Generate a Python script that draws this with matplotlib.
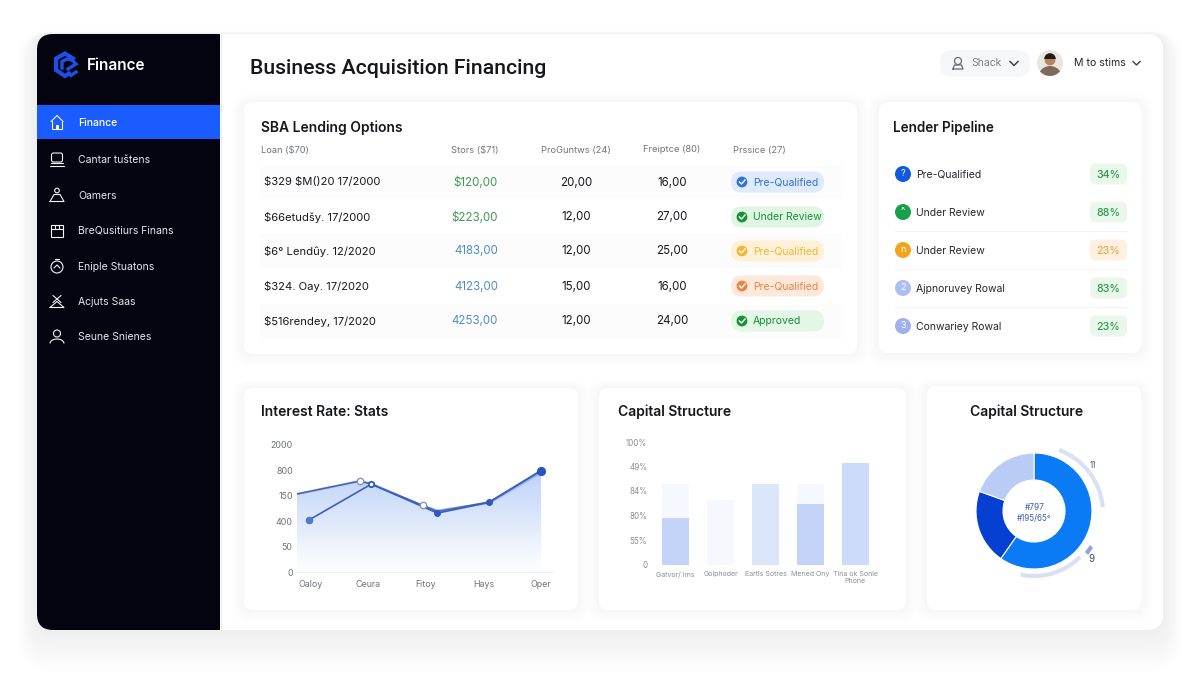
import numpy as np
import matplotlib
matplotlib.use("Agg")
import matplotlib.pyplot as plt
from matplotlib.patches import FancyBboxPatch, Circle, Rectangle, Wedge, Arc, Polygon

plt.rcParams['font.family'] = ['Inter', 'DejaVu Sans']
plt.rcParams['text.parse_math'] = False

W, H = 1200, 675

# sidebar + header
nav_labels = ["Finance", "Cantar tuštens", "Oamers", "BreQusitiurs Finans",
              "Eniple Stuatons", "Acjuts Saas", "Seune Snienes"]

# loan table
table_headers = ["Loan ($70)", "Stors ($71)", "ProGuntws (24)", "Freiptce (80)", "Prssice (27)"]
loan_names = ["$329 $M()20 17/2000", "$66etudšy. 17/2000", "$6° Lendûy. 12/2020",
              "$324. Oay. 17/2020", "$516rendey, 17/2020"]
stors_vals = ["$120,00", "$223,00", "4183,00", "4123,00", "4253,00"]
stors_cols = ["#3f9a4c", "#3f9a4c", "#4f8fc0", "#4f8fc0", "#4f8fc0"]
progress_vals = ["20,00", "12,00", "12,00", "15,00", "12,00"]
freight_vals = ["16,00", "27,00", "25,00", "16,00", "24,00"]
status_labels = ["Pre-Qualified", "Under Review", "Pre-Qualified", "Pre-Qualified", "Approved"]
status_fg = ["#2f72d8", "#17923a", "#f2b632", "#ee8440", "#17923a"]
status_bg = ["#dfeafb", "#e0f6e2", "#fff1d8", "#fde8dc", "#e4f6e6"]

# pipeline list
pipe_labels = ["Pre-Qualified", "Under Review", "Under Review", "Ajpnoruvey Rowal", "Conwariey Rowal"]
pipe_marks = ["?", "^", "n", "2", "3"]
pipe_cols = ["#0f5be0", "#17a04a", "#f2a51c", "#aebdf2", "#9fb2ee"]
pipe_pct = ["34%", "88%", "23%", "83%", "23%"]
pipe_fg = ["#2f9a48", "#2f9a48", "#eda84a", "#2f9a48", "#2f9a48"]
pipe_bg = ["#e9f8ea", "#e9f8ea", "#fff0e0", "#e9f8ea", "#e9f8ea"]

# line chart (x in category units, y in tick units because the axis labels are uneven)
line_cats = ["Oaloy", "Ceura", "Fitoy", "Hays", "Oper"]
line_ticks = ["0", "50", "400", "150", "800", "2000"]
area_x = [-0.24, 0.85, 1.05, 1.95, 2.20, 3.10, 4.0]
area_y = [3.07, 3.58, 3.48, 2.60, 2.42, 2.72, 3.90]
upper_y = [3.07, 3.58, 3.46, 2.62, 2.38, 2.76, 4.00]
lower_x = [-0.03, 1.05, 2.20, 3.10, 4.0]
lower_y = [2.05, 3.46, 2.32, 2.74, 3.98]

# bar chart
bar_cats = ["Gatvor/ Ims", "Golphoder", "Eartls Sotres", "Mened Ony", "Tina ok Sonie\nPhone"]
bar_ticks = ["0", "55%", "80%", "84%", "49%", "100%"]
bar_back = [3.29, 2.63, 3.29, 3.29, 4.14]
bar_front = [1.90, 0.0, 3.29, 2.45, 4.14]
bar_cols = ["#c3d4f8", "#f4f7fe", "#dbe6fb", "#c3d4f8", "#cddbfa"]

# donut
donut_vals = [59.7, 20.8, 19.5]
donut_cols = ["#0a7bf5", "#0640d2", "#b9ccf5"]


def ax_px(x0, y0, x1, y1):
    # axes from pixel box (y measured from the top)
    a = fig.add_axes([x0 / W, 1 - y1 / H, (x1 - x0) / W, (y1 - y0) / H])
    a.patch.set_alpha(0)
    return a


def rbox(x0, y0, x1, y1, r, fc, z=1, alpha=1, ec="none"):
    p = FancyBboxPatch((x0 + r, y0 + r), x1 - x0 - 2 * r, y1 - y0 - 2 * r,
                       boxstyle=f"round,pad={r},rounding_size={r}",
                       fc=fc, ec=ec, alpha=alpha, zorder=z, lw=0.8)
    ax.add_patch(p)


def card(x0, y0, x1, y1):
    for k in range(8, 0, -1):
        rbox(x0 - k * 1.5, y0 - k * 1.0, x1 + k * 1.5, y1 + k * 1.6, 10 + k, "#8a94b0", 2, 0.006)
    rbox(x0, y0, x1, y1, 9, "white", 3)


def nav_icon(i, cx, cy):
    c = "#f2f4f8"
    lw = 0.8
    kw = dict(color=c, lw=lw, zorder=7, solid_capstyle="round")
    if i == 0:
        ax.plot([cx - 6, cx, cx + 6], [cy - 1, cy - 7, cy - 1], **kw)
        ax.plot([cx - 5, cx - 5, cx + 5, cx + 5], [cy - 2, cy + 6, cy + 6, cy - 2], **kw)
        ax.add_patch(Rectangle((cx - 1.5, cy + 2), 3, 4, fc=c, zorder=7))
    elif i == 1:
        ax.add_patch(FancyBboxPatch((cx - 5, cy - 6), 10, 8, boxstyle="round,pad=0.5,rounding_size=2",
                                    fc="none", ec=c, lw=lw, zorder=7))
        ax.plot([cx - 7, cx + 7], [cy + 6, cy + 6], **kw)
        ax.plot([cx - 6, cx + 6], [cy + 3, cy + 3], **kw)
    elif i == 2:
        ax.add_patch(Circle((cx, cy - 5), 2.3, fc="none", ec=c, lw=lw, zorder=7))
        ax.plot([cx - 7, cx - 3, cx + 3, cx + 7, cx - 7], [cy + 6, cy - 1, cy - 1, cy + 6, cy + 6], **kw)
    elif i == 3:
        ax.add_patch(Rectangle((cx - 6, cy - 6), 12, 12, fc="none", ec=c, lw=lw, zorder=7))
        ax.plot([cx - 6, cx + 6], [cy - 2, cy - 2], **kw)
        ax.plot([cx - 2, cx - 2], [cy - 6, cy - 2], **kw)
        ax.plot([cx + 2, cx + 2], [cy - 6, cy - 2], **kw)
    elif i == 4:
        ax.add_patch(Circle((cx, cy + 1), 6, fc="none", ec=c, lw=lw, zorder=7))
        ax.plot([cx - 2, cx + 2], [cy - 7, cy - 7], **kw)
        ax.plot([cx - 3, cx, cx + 3], [cy + 2, cy - 1, cy + 2], **kw)
    elif i == 5:
        ax.plot([cx - 7, cx, cx + 7, cx - 7], [cy + 6, cy, cy + 6, cy + 6], **kw)
        ax.plot([cx - 4, cx + 4], [cy - 6, cy + 1], **kw)
        ax.plot([cx + 4, cx - 4], [cy - 6, cy + 1], **kw)
    else:
        ax.add_patch(Circle((cx, cy - 3), 3.5, fc="none", ec=c, lw=lw, zorder=7))
        ax.add_patch(Arc((cx, cy + 7), 14, 9, theta1=180, theta2=360, ec=c, lw=lw, zorder=7))


fig = plt.figure(figsize=(W / 100, H / 100), dpi=100, facecolor="white")
ax = fig.add_axes([0, 0, 1, 1])
ax.set_xlim(0, W)
ax.set_ylim(H, 0)
ax.axis("off")

# outer window with soft shadow, mostly below
for k in range(16, 0, -1):
    rbox(37 - k * 1.2, 34 - k * 0.2, 1163 + k * 1.2, 630 + k * 2.6, 16 + k, "#7f89a8", 0, 0.004)
rbox(37, 34, 1163, 630, 16, "white", 1)

# sidebar: rounded on the left, square on the right
rbox(37, 34, 120, 630, 16, "#03040f", 2)
ax.add_patch(Rectangle((80, 34), 140, 596, fc="#03040f", zorder=2))
ax.add_patch(Rectangle((37, 105), 183, 34, fc="#1a5cff", zorder=3))
ax.plot([220.5, 220.5], [34, 630], color="#e4e6ec", lw=0.6, zorder=3)

# logo
ax.plot([73, 65, 56, 56, 65, 69], [58.5, 53.5, 58.5, 70, 76, 73.5], color="#1d4fe6", lw=3.0, zorder=5,
        solid_joinstyle="miter")
ax.plot([62, 62, 67, 72, 76, 68], [68, 61.5, 59, 60, 64, 69], color="#1d4fe6", lw=2.4, zorder=5,
        solid_joinstyle="miter")
ax.plot([71, 76], [75.5, 72], color="#1d4fe6", lw=2.4, zorder=5)
ax.text(87, 65.5, "Finance", color="white", fontsize=11, fontweight="semibold", va="center", zorder=5)

nav_y = [122.5, 159.5, 195.5, 230.5, 266, 301.5, 336.5]
for i, (lab, yy) in enumerate(zip(nav_labels, nav_y)):
    nav_icon(i, 57, yy)
    ax.text(78, yy + 0.5, lab, color="white" if i == 0 else "#e6e8ee", fontsize=7.5,
            fontweight="medium" if i == 0 else "normal", va="center", zorder=7)

# header
ax.text(250, 68, "Business Acquisition Financing", color="#15171c", fontsize=15.3,
        fontweight="medium", family=["Roboto", "DejaVu Sans"], va="center", zorder=5)
rbox(940, 50, 1030, 77, 12, "#f6f7f8", 3)
ax.add_patch(Circle((958, 61), 3.5, fc="none", ec="#666b73", lw=0.9, zorder=5))
ax.plot([953, 954.5, 961.5, 963, 953], [69, 65, 65, 69, 69], color="#666b73", lw=0.9, zorder=5)
ax.text(971, 63.5, "Shack", color="#7b8087", fontsize=7.5, va="center", zorder=5)
ax.plot([1010, 1014, 1018], [61.5, 65.5, 61.5], color="#3f444b", lw=1.1, zorder=5)

# avatar
bg = Circle((1050, 63), 13, fc="#e9e6e2", zorder=4)
ax.add_patch(bg)
body = Wedge((1050, 78), 12, 180, 360, fc="#7d6a58", zorder=5)
ax.add_patch(body)
body.set_clip_path(bg)
ax.add_patch(Circle((1050, 60), 5.4, fc="#b9835f", zorder=6))
ax.add_patch(Wedge((1050, 59), 5.8, 180, 360, fc="#241a14", zorder=7))
ax.text(1074, 63, "M to stims", color="#23262b", fontsize=7.6, va="center", zorder=5)
ax.plot([1133, 1136.5, 1140], [61.5, 65, 61.5], color="#3f444b", lw=1.0, zorder=5)

# cards
card(244, 102, 857, 354)
card(879, 102, 1141, 353)
card(244, 388, 578, 610)
card(599, 388, 906, 610)
card(927, 386, 1141, 610)

# table
ax.text(261, 127.5, "SBA Lending Options", color="#15171c", fontsize=10, fontweight="semibold", va="center", zorder=5)
head_x = [261, 475, 576, 672, 759]
head_ha = ["left", "center", "center", "center", "center"]
for t, xx, ha in zip(table_headers, head_x, head_ha):
    ax.text(xx, 149, t, color="#70757c", fontsize=6.7, ha=ha, va="center_baseline", zorder=5)

row_y = [182, 217, 251, 286, 321]
for i, yy in enumerate(row_y):
    if i % 2 == 0:
        ax.add_patch(Rectangle((260, yy - 17), 582, 34, fc="#fcfcfc", zorder=4))
    ax.text(264, yy + 0.5, loan_names[i], color="#17191d", fontsize=8.1, va="center", zorder=5)
    ax.text(498, yy + 0.5, stors_vals[i], color=stors_cols[i], fontsize=8.3, ha="right", va="center", zorder=5)
    ax.text(576, yy + 0.5, progress_vals[i], color="#17191d", fontsize=8.3, ha="center", va="center", zorder=5)
    ax.text(672, yy + 0.5, freight_vals[i], color="#17191d", fontsize=8.3, ha="center", va="center", zorder=5)
    rbox(731, yy - 10.5, 824, yy + 10.5, 10.4, status_bg[i], 5)
    ax.add_patch(Circle((742, yy), 5.4, fc=status_fg[i], zorder=6))
    ax.plot([739.5, 741.5, 745], [yy, yy + 2, yy - 2], color="white", lw=1.0, zorder=7)
    ax.text(753, yy + 0.5, status_labels[i], color=status_fg[i], fontsize=7.5, va="center", zorder=6)

# pipeline
ax.text(893, 127.5, "Lender Pipeline", color="#15171c", fontsize=9.7, fontweight="semibold", va="center", zorder=5)
pipe_y = [174, 212, 250, 288, 326]
for i, yy in enumerate(pipe_y):
    ax.add_patch(Circle((903, yy), 8, fc=pipe_cols[i], zorder=5))
    ax.text(903, yy, pipe_marks[i], color="white", fontsize=6.5, ha="center", va="center", zorder=6)
    ax.text(916, yy + 0.5, pipe_labels[i], color="#25282d", fontsize=7.5, va="center", zorder=5)
    rbox(1090, yy - 10.5, 1127, yy + 10.5, 6, pipe_bg[i], 5)
    ax.text(1108.5, yy + 0.5, pipe_pct[i], color=pipe_fg[i], fontsize=7.6, fontweight="medium",
            ha="center", va="center", zorder=6)
    if 1 <= i <= 3:
        ax.plot([895, 1127], [yy + 19, yy + 19], color="#f3f4f6", lw=0.8, zorder=4)

# titles of the lower cards
ax.text(261, 412, "Interest Rate: Stats", color="#15171c", fontsize=10, fontweight="semibold", va="center", zorder=5)
ax.text(618, 412, "Capital Structure", color="#15171c", fontsize=10, fontweight="semibold", va="center", zorder=5)
ax.text(1027, 412, "Capital Structure", color="#15171c", fontsize=10, fontweight="semibold",
        ha="center", va="center", zorder=5)

# line chart
lax = ax_px(297, 435, 553, 572)
lax.set_zorder(5)
xlo, xhi = -0.24, 4.208
ylo, yhi = 0, 137 / 25.4
grad = np.linspace(1, 0, 256).reshape(-1, 1)
rgba = np.zeros((256, 1, 4))
rgba[..., :3] = matplotlib.colors.to_rgb("#8fb2f2")
rgba[..., 3] = grad * 0.58
im = lax.imshow(rgba, extent=[xlo, xhi, 0, 3.95], aspect="auto", origin="upper", zorder=1)
clip = Polygon(list(zip(area_x, area_y)) + [(area_x[-1], 0), (area_x[0], 0)], closed=True,
               transform=lax.transData, fc="none", ec="none")
lax.add_patch(clip)
im.set_clip_path(clip)
lax.plot(area_x, area_y, color="#9db9f0", lw=1.6, zorder=2)
lax.plot(area_x, upper_y, color="#4a65a8", lw=1.1, zorder=3)
lax.plot(lower_x, lower_y, color="#3b5fc0", lw=1.2, zorder=4)
lax.plot(lower_x[:-1], lower_y[:-1], ls="none", marker="o", ms=4.0, color="#2f58bf", zorder=5)
lax.plot(lower_x[-1], lower_y[-1], ls="none", marker="o", ms=5.6, color="#2754c4", zorder=5)
lax.plot(lower_x[0], lower_y[0], ls="none", marker="o", ms=4.4, color="#5577cc", zorder=6)
lax.plot(lower_x[1], lower_y[1], ls="none", marker="o", ms=3.8, mfc="white", mec="#2f58bf", mew=1.2, zorder=6)
lax.plot([area_x[1], area_x[3]], [upper_y[1], upper_y[3]], ls="none", marker="o", ms=4.6,
         mfc="white", mec="#8c97ad", mew=1, zorder=6)
lax.set_xlim(xlo, xhi)
lax.set_ylim(ylo, yhi)
lax.set_xticks(range(len(line_cats)), line_cats)
lax.set_yticks(range(len(line_ticks)), line_ticks)
lax.tick_params(length=0, labelsize=6.4, labelcolor="#6f7379")
lax.tick_params(axis="y", pad=3)
lax.tick_params(axis="x", pad=6)
for s in ["top", "right", "left"]:
    lax.spines[s].set_visible(False)
lax.spines["bottom"].set_color("#e8ecf4")
lax.spines["bottom"].set_linewidth(0.7)

# bar chart
bax = ax_px(650, 435, 880, 564.5)
bax.set_zorder(5)
bar_x = np.arange(len(bar_cats))
back_cols = [("#f5f8fe" if b != f else c) for b, f, c in zip(bar_back, bar_front, bar_cols)]
bax.bar(bar_x, bar_back, width=0.59, color=back_cols, zorder=1)
bax.bar(bar_x, bar_front, width=0.59, color=bar_cols, zorder=2)
bax.set_xlim(-0.57, 4.55)
bax.set_ylim(0, 129.5 / 24.5)
bax.set_xticks(bar_x, bar_cats)
bax.set_yticks(range(len(bar_ticks)), bar_ticks)
bax.tick_params(length=0, labelcolor="#8b8f95")
bax.tick_params(axis="y", pad=2, labelsize=5.8)
bax.tick_params(axis="x", pad=5, labelsize=5.1)
for s in bax.spines.values():
    s.set_visible(False)

# donut
dax = ax_px(964, 441, 1104, 581)
dax.set_zorder(5)
dax.pie(donut_vals, colors=donut_cols, startangle=90, counterclock=False, radius=58 / 70,
        wedgeprops=dict(width=27 / 70, edgecolor="white", linewidth=0.8))
dax.set_xlim(-1, 1)
dax.set_ylim(-1, 1)
# y axis of ax is flipped, so these angles run clockwise on screen
ax.add_patch(Arc((1036, 513), 134, 134, theta1=-70, theta2=-5, ec="#d9e0f4", lw=3.0, zorder=4))
ax.add_patch(Arc((1034, 511), 130, 130, theta1=45, theta2=102, ec="#d9e0f4", lw=3.0, zorder=4))
ax.add_patch(Polygon([(1085, 552), (1090, 545), (1093, 548), (1088, 555)], fc="#8ea4de", zorder=4))
ax.text(1093, 465.5, "11", color="#4a5263", fontsize=5.8, ha="center", va="center", zorder=6)
ax.text(1091.5, 559.5, "9", color="#3d4763", fontsize=7, ha="center", va="center", zorder=6)
ax.text(1034.5, 507.5, "#797", color="#3b62ab", fontsize=6, ha="center", va="center", zorder=7)
ax.text(1034.5, 518.5, "#195/65°", color="#3b62ab", fontsize=5.8, ha="center", va="center", zorder=7)

fig.savefig("out.png", dpi=100, facecolor="white")
